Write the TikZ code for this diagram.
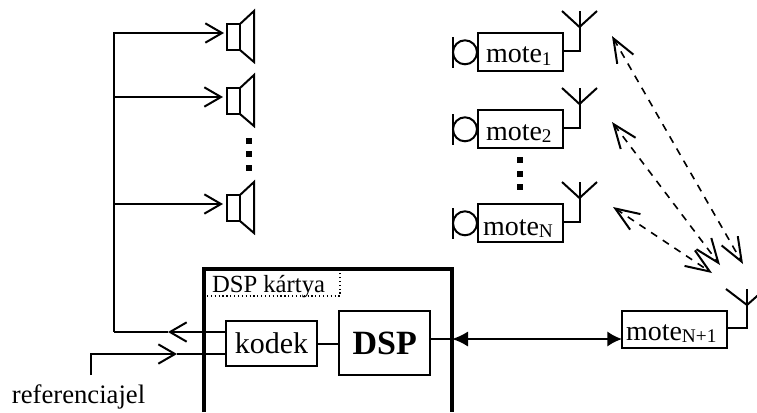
\documentclass[tikz,border=0pt]{standalone}
\usepackage{fontspec}
\setmainfont{Liberation Serif}
\usetikzlibrary{arrows.meta,calc}
\tikzset{
  x=0.75pt,y=-0.75pt,
  every node/.style={inner sep=0pt,outer sep=0pt},
  wire/.style={line width=1.5pt,line join=miter},
  openarrow/.style={wire,-{Straight Barb[length=12.5pt,width=14.5pt,line width=1.5pt]}},
  radio/.style={line width=1.2pt,dash pattern=on 5.5pt off 5pt,{Straight Barb[length=18pt,width=14pt,line width=1.5pt]}-{Straight Barb[length=18pt,width=14pt,line width=1.5pt]}},
  solidarrow/.style={line width=1.7pt,{Latex[length=12pt,width=11.5pt]}-{Latex[length=11pt,width=11.5pt]}},
  box/.style={draw,line width=1.5pt,anchor=north west},
  motebox/.style={box,minimum width=63.75pt,minimum height=28.5pt},
  motetxt/.style={font=\fontsize{21}{23}\selectfont,anchor=base west},
  txt/.style={font=\fontsize{20}{22}\selectfont,anchor=base west},
  dotsq/.style={fill=black,draw=none,minimum size=5pt},
}
\newcommand{\speaker}[1]{%
  \draw[wire] (226.5,#1-13) rectangle (240,#1+13);
  \draw[wire] (240,#1-13) -- (254,#1-26) -- (254,#1+25) -- (240,#1+13);
}
\newcommand{\subt}[1]{\lower2.2pt\hbox{\fontsize{14.5}{16}\selectfont #1}}
\begin{document}
\begin{tikzpicture}
\useasboundingbox (0,0) rectangle (757,412);
% speakers
\coordinate (s1) at (224,33);
\coordinate (s2) at (223,97);
\coordinate (s3) at (223,204);
\coordinate (bus1) at (114,33);
\coordinate (bus2) at (114,97);
\coordinate (bus3) at (114,204);
\coordinate (busend) at (114,332);
\speaker{37}
\speaker{101}
\speaker{208}
\draw[openarrow] (busend) -- (bus1) -- (s1);
\draw[openarrow] (bus2) -- (s2);
\draw[openarrow] (bus3) -- (s3);
% dots
\foreach \y in {141,154,168}{\node[dotsq] at (249,\y) {};}
\foreach \y in {160,174,187}{\node[dotsq] at (520,\y) {};}
% DSP card
\draw[line width=2.6pt] (204,412) -- (204,269) -- (452,269) -- (452,412);
\draw[line width=0.9pt,dotted] (207,296) -- (340,296) -- (340,270);
\node[anchor=base west,font=\fontsize{18.5}{20}\selectfont] at (212,292) {DSP kártya};
\node[box,minimum width=68.25pt,minimum height=33.75pt] (kodek) at (226,321) {};
\node[font=\fontsize{22.5}{24}\selectfont,anchor=base] at (271.5,353) {kodek};
\node[box,minimum width=68.25pt,minimum height=48pt] (dsp) at (339,311) {};
\node[font=\fontsize{25.5}{28}\bfseries\selectfont,anchor=base] at (384.7,354) {DSP};
\draw[wire] (kodek.east) -- (dsp.west |- kodek.east);
% kodek wires
\coordinate (kl1) at (226,332);
\coordinate (ka1) at (168,332);
\coordinate (kl2) at (226,354);
\coordinate (ka2) at (177,354);
\coordinate (ref) at (91,375);
\coordinate (refc) at (91,354);
\draw[openarrow] (kl1) -- (ka1);
\draw[wire] (ka1) -- (busend);
\draw[openarrow] (ref) -- (refc) -- (ka2);
\draw[wire] (ka2) -- (kl2);
\node[txt] at (12,403) {referenciajel};
% motes
\node[motebox] (ma) at (478,33) {};
\node[motebox] (mb) at (478,110) {};
\node[motebox] (mc) at (478,204) {};
\node[motetxt] at (486,62.5) {mote\subt{1}};
\node[motetxt] at (486,140) {mote\subt{2}};
\node[motetxt] at (483,235) {mote\subt{N}};
\foreach \y in {33,110,204}{
  \draw[wire] (465,{\y+19.3}) circle[radius=12];
  \draw[wire] (452.5,{\y+4}) -- (452.5,{\y+35});
  \draw[wire] (563,{\y+18}) -- (579.5,{\y+18}) -- (579.5,{\y-22});
  \draw[wire] (562,{\y-22}) -- (579.5,{\y-6}) -- (597,{\y-22});
}
\node[box,minimum width=78.75pt,minimum height=27.75pt] (mn) at (622,311) {};
\node[motetxt] at (626,340) {mote\subt{N+1}};
\draw[wire] (mn.east |- 0,328) -- (747,328) -- (747,289);
\draw[wire] (726,289) -- (747,305) -- (765,289);
\coordinate (cardedge) at (452,339);
\draw[solidarrow] (cardedge) -- (mn.west |- cardedge);
\draw[wire] (dsp.east |- cardedge) -- (cardedge);
% radio
\coordinate (r1a) at (612,36);
\coordinate (r1b) at (743,264);
\coordinate (r2a) at (612,122);
\coordinate (r2b) at (720,265);
\coordinate (r3a) at (613,207);
\coordinate (r3b) at (712,273);
\draw[radio] (r1a) -- (r1b);
\draw[radio] (r2a) -- (r2b);
\draw[radio] (r3a) -- (r3b);
\end{tikzpicture}
\end{document}
